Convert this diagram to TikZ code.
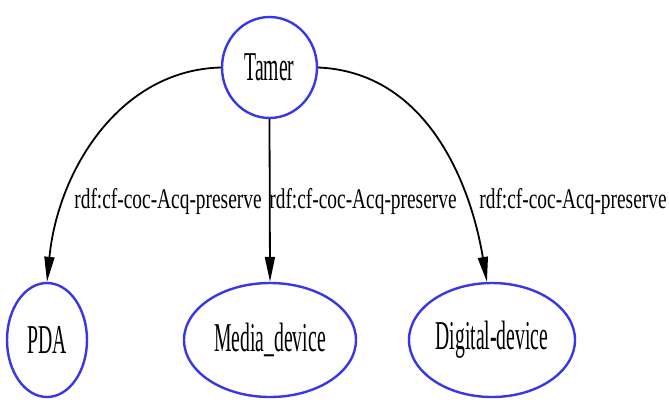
\documentclass[tikz,border=0pt]{standalone}
\usepackage{fontspec}
\usetikzlibrary{shapes.geometric,arrows.meta}
\newfontfamily\nodefnt[FakeStretch=0.48]{Liberation Serif}
\newfontfamily\labfnt[FakeStretch=0.68]{Liberation Serif}
\definecolor{nodeblue}{RGB}{55,55,230}
\tikzset{
  gnode/.style={ellipse, draw=nodeblue, line width=2.4pt, inner sep=0pt,
    minimum height=114pt, font=\nodefnt\fontsize{41}{44}\selectfont},
  edge/.style={line width=1.8pt, draw=black, -{Triangle[length=25pt,width=10pt]}},
  elabel/.style={anchor=base, inner sep=0pt, font=\labfnt\fontsize{28.5}{32}\selectfont}
}
\begin{document}
\begin{tikzpicture}[x=1pt,y=-1pt]
\useasboundingbox (0,0) rectangle (669,402);
\node[gnode, minimum width=95pt, minimum height=101pt] (T) at (269.5,67.5) {Tamer};
\node[gnode, minimum width=80pt] (P) at (47,340) {PDA};
\node[gnode, minimum width=172pt] (M) at (270,340) {Media\_device};
\node[gnode, minimum width=166pt] (D) at (492,340) {Digital-device};
\draw[edge] (T.west) .. controls (120,70) and (58,170) .. (P.north);
\draw[edge] (T.south) -- (M.north);
\draw[edge] (T.east) .. controls (425,72) and (470,180) .. (D.95);
\node[elabel] (l1) at (168,208) {rdf:cf-coc-Acq-preserve};
\node[elabel] (l2) at (363,208) {rdf:cf-coc-Acq-preserve};
\node[elabel] (l3) at (573,208) {rdf:cf-coc-Acq-preserve};
\end{tikzpicture}
\end{document}
